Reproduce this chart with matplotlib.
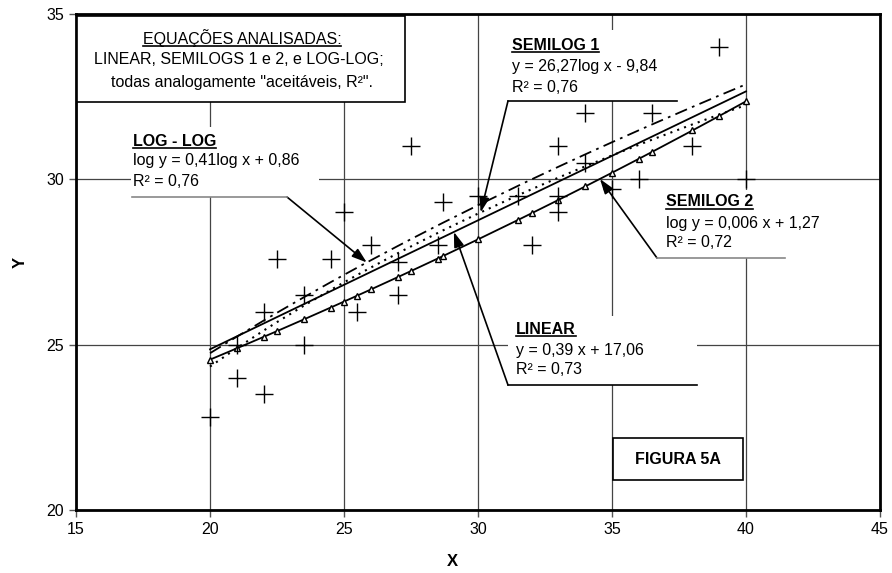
import numpy as np
import matplotlib.pyplot as plt
from matplotlib.patches import Rectangle
from matplotlib.lines import Line2D

plt.rcParams['font.family'] = ['Liberation Sans', 'DejaVu Sans']

# pontos observados (X, Y)
x_obs = [20, 21, 21, 22, 22, 22.5, 23.5, 23.5, 24.5, 25, 25.5, 26, 27, 27,
         27.5, 28.5, 28.7, 30, 31.5, 32, 33, 33, 33, 34, 34, 35, 36, 36.5,
         38, 39, 40]
y_obs = [22.8, 24, 25, 23.5, 26, 27.6, 25, 26.5, 27.6, 29, 26, 28, 26.5, 27.5,
         31, 28, 29.3, 29.5, 29.5, 28, 29, 29.5, 31, 32, 30.5, 29.7, 30, 32,
         31, 34, 30]

# coeficientes das equacoes ajustadas
lin_a, lin_b = 0.39, 17.06      # y = a x + b
sl1_a, sl1_b = 26.27, -9.84     # y = a log x + b
sl2_a, sl2_b = 0.006, 1.27      # log y = a x + b
ll_a, ll_b = 0.41, 0.86         # log y = a log x + b

x_ticks = [15, 20, 25, 30, 35, 40, 45]
y_ticks = [20, 25, 30, 35]


def linear(x):
    return lin_a * x + lin_b


def semilog1(x):
    return sl1_a * np.log10(x) + sl1_b


def semilog2(x):
    return 10 ** (sl2_a * x + sl2_b)


def loglog(x):
    return 10 ** (ll_a * np.log10(x) + ll_b)


W, H = 892, 573
fig = plt.figure(figsize=(W / 100, H / 100), dpi=100)
ax = fig.add_axes([76 / W, 1 - 510 / H, 804 / W, 496 / H])


def px(x, y):
    # pixel (a partir do topo) -> fracao da figura
    return x / W, 1 - y / H


xs = np.array(sorted(set(x_obs)))

ax.plot(xs, loglog(xs), color='black', lw=1.3, dashes=[7, 3, 1.5, 3], zorder=3)
ax.plot(xs, semilog1(xs), color='black', lw=1.5, linestyle=(0, (1, 2.5)), zorder=3)
ax.plot(xs, linear(xs), color='black', lw=1.3, zorder=3)
ax.plot(xs, semilog2(xs), color='black', lw=1.3, marker='^', markersize=4,
        markerfacecolor='white', markeredgecolor='black', markeredgewidth=1, zorder=3)
ax.scatter(x_obs, y_obs, marker='+', s=180, color='black', linewidths=1, zorder=4)

ax.set_xlim(15, 45)
ax.set_ylim(20, 35)
ax.set_xticks(x_ticks)
ax.set_yticks(y_ticks)
ax.tick_params(labelsize=11.5, length=5, width=1, color='#555555', direction='out')
ax.grid(True, color='#444444', lw=0.9)
ax.set_axisbelow(True)
for s in ax.spines.values():
    s.set_linewidth(2)
    s.set_color('black')

fig.text(*px(452, 561), 'X', ha='center', va='center', fontsize=12, fontweight='bold')
fig.text(*px(20, 262), 'Y', ha='center', va='center', fontsize=12, fontweight='bold',
         rotation=90)

titles = []

# caixa superior
fig.patches.append(Rectangle(px(77, 102), 328 / W, 86 / H, transform=fig.transFigure,
                             facecolor='white', edgecolor='black', lw=1.2, zorder=5))
t = fig.text(*px(242, 38), 'EQUAÇÕES ANALISADAS:', ha='center', va='center',
             fontsize=11.5, zorder=6)
titles.append(t)
fig.text(*px(239, 60), 'LINEAR, SEMILOGS 1 e 2, e LOG-LOG;', ha='center', va='center',
         fontsize=11.5, zorder=6)
fig.text(*px(242, 82), 'todas analogamente "aceitáveis, R²".', ha='center', va='center',
         fontsize=11.5, zorder=6)

# callouts: titulo, equacao, r2, caixa (x0, y0, x1, y1), x do texto, ys do texto,
# ponto de saida da seta, x da ponta na curva, curva, cor e extremos da linha inferior
callouts = [
    ('LOG - LOG', 'log y = 0,41log x + 0,86', 'R² = 0,76', (131, 127, 319, 197),
     133, (141, 161, 181), (287, 197), 25.85, loglog, '#888888', (132, 287)),
    ('SEMILOG 1', 'y = 26,27log x - 9,84', 'R² = 0,76', (508, 30, 676, 101),
     512, (45, 66, 87), (508, 101), 30.1, semilog1, 'black', (508, 677)),
    ('SEMILOG 2', 'log y = 0,006 x + 1,27', 'R² = 0,72', (657, 190, 785, 258),
     666, (202, 223, 243), (657, 258), 34.55, semilog2, '#888888', (657, 785)),
    ('LINEAR', 'y = 0,39 x + 17,06', 'R² = 0,73', (508, 316, 697, 385),
     516, (329, 350, 370), (508, 385), 29.1, linear, 'black', (508, 697)),
]

for title, eq, r2, box, tx, tys, start, xtip, curve, lcol, lxs in callouts:
    x0, y0, x1, y1 = box
    ax.add_patch(Rectangle(((x0 - 76) / 26.8 + 15, 20 + (510 - y1) / 33.07),
                           (x1 - x0) / 26.8, (y1 - y0) / 33.07,
                           facecolor='white', edgecolor='none', zorder=1))
    t = fig.text(*px(tx, tys[0]), title, ha='left', va='center', fontsize=11.5,
                 fontweight='bold', zorder=6)
    titles.append(t)
    fig.text(*px(tx, tys[1]), eq, ha='left', va='center', fontsize=11.5, zorder=6)
    fig.text(*px(tx, tys[2]), r2, ha='left', va='center', fontsize=11.5, zorder=6)
    fig.lines.append(Line2D([lxs[0] / W, lxs[1] / W], [1 - y1 / H, 1 - y1 / H],
                            transform=fig.transFigure, color=lcol, lw=1.2))
    ax.annotate('', xy=(xtip, curve(xtip)), xycoords='data',
                xytext=px(*start), textcoords='figure fraction',
                arrowprops=dict(arrowstyle='-|>,head_length=0.9,head_width=0.3',
                                color='black', lw=1.2, shrinkA=0, shrinkB=0),
                zorder=5)

# caixa FIGURA 5A
fig.patches.append(Rectangle(px(613, 480), 130 / W, 42 / H, transform=fig.transFigure,
                             facecolor='white', edgecolor='black', lw=1.2, zorder=5))
fig.text(*px(678, 459), 'FIGURA 5A', ha='center', va='center', fontsize=11.5,
         fontweight='bold', zorder=6)

# sublinhado dos titulos
fig.canvas.draw()
r = fig.canvas.get_renderer()
for t in titles:
    bb = t.get_window_extent(r)
    yl = bb.y0 + 1
    fig.lines.append(Line2D([bb.x0 / W, bb.x1 / W], [yl / H, yl / H],
                            transform=fig.transFigure, color='black', lw=1.2, zorder=6))

fig.savefig('out.png', dpi=100)
